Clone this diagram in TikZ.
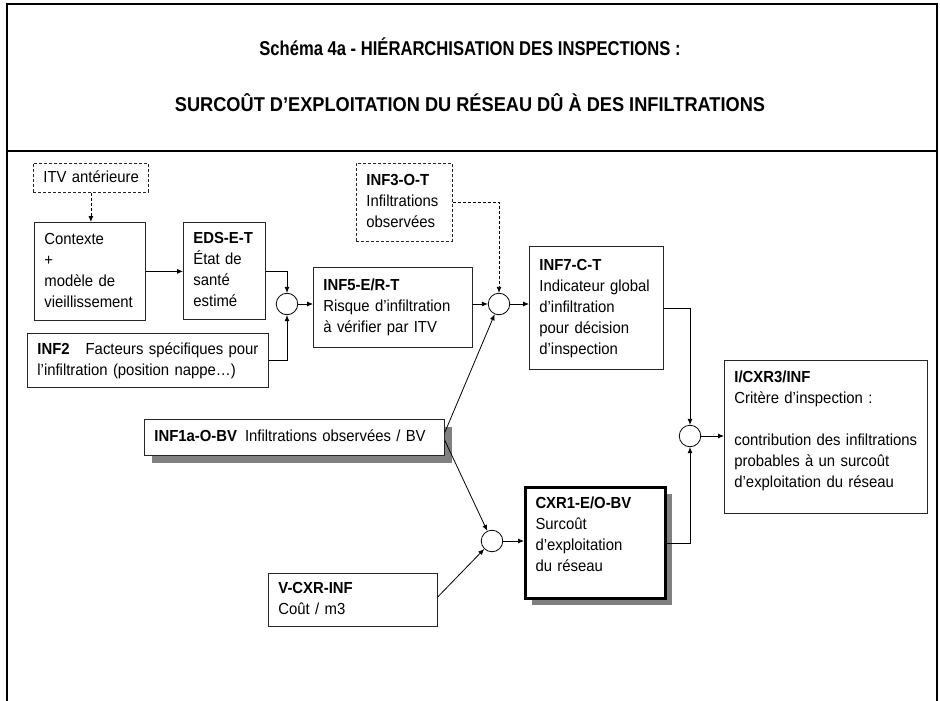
\documentclass[tikz,border=0pt]{standalone}
\usepackage{fontspec}
\setmainfont{Liberation Sans}[FakeStretch=0.93]
\newfontfamily\titlefam{Liberation Sans}[FakeStretch=0.83]
\newfontfamily\titlefamw{Liberation Sans}[FakeStretch=0.91]
\usetikzlibrary{arrows.meta,calc}
\newcommand\bodyfont{\fontsize{16}{21}\selectfont}
\newcommand\titlefont{\titlefam\bfseries\fontsize{20}{24}\selectfont}
\newcommand\titlefontw{\titlefamw\bfseries\fontsize{20}{24}\selectfont}
\newcommand\tb[1]{\begin{tabular}{@{}l@{}}#1\end{tabular}}
\definecolor{shadowgray}{RGB}{128,128,128}
\tikzset{
  bx/.style={draw=black!85, line width=0.8pt, rectangle, anchor=north west,
    inner xsep=10pt, inner ysep=0pt, align=left, font=\bodyfont},
  dbx/.style={bx, dash pattern=on 3pt off 2pt},
  jn/.style={circle, draw, line width=0.8pt, minimum size=21.5pt, inner sep=0pt},
  arr/.style={line width=0.8pt, -{Latex[length=6pt,width=5pt]}},
  darr/.style={arr, dash pattern=on 3pt off 2pt},
  ttl/.style={font=\titlefont, inner sep=0pt},
  ttlw/.style={font=\titlefontw, inner sep=0pt},
}
\begin{document}
\begin{tikzpicture}[x=1pt,y=-1pt]
\useasboundingbox (0,0) rectangle (940,701);
% frame
\draw[line width=2pt] (7,701) -- (7,4) -- (937,4) -- (937,701);
\draw[line width=1.5pt] (7,151) -- (937,151);
% titles
\node[ttl] (t1) at (470,47) {Schéma 4a - HIÉRARCHISATION DES INSPECTIONS :};
\node[ttlw] (t2) at (470,103) {SURCOÛT D’EXPLOITATION DU RÉSEAU DÛ À DES INFILTRATIONS};
% shadows
\fill[shadowgray] (152,427) rectangle (452,463);
\fill[shadowgray] (532,494) rectangle (672,605);
% boxes
\node[dbx, text width=95pt, minimum height=29pt] (itv) at (33,163) {\tb{ITV antérieure}};
\node[bx, text width=91pt, minimum height=98pt] (ctx) at (34,222) {\tb{Contexte\\+\\modèle de\\vieillissement}};
\node[bx, text width=62pt, minimum height=97pt] (eds) at (183,222) {\tb{\textbf{EDS-E-T}\\État de\\santé\\estimé}};
\node[bx, text width=221pt, minimum height=54pt] (inf2) at (27,333) {\tb{\textbf{INF2}\quad Facteurs spécifiques pour\\l’infiltration (position nappe…)}};
\node[bx, text width=139pt, minimum height=80pt] (inf5) at (313,267) {\tb{\textbf{INF5-E/R-T}\\Risque d’infiltration\\à vérifier par ITV}};
\node[dbx, text width=76pt, minimum height=78pt] (inf3) at (356,163) {\tb{\textbf{INF3-O-T}\\Infiltrations\\observées}};
\node[bx, text width=114pt, minimum height=123pt] (inf7) at (529,246) {\tb{\textbf{INF7-C-T}\\Indicateur global\\d’infiltration\\pour décision\\d’inspection}};
\node[bx, text width=183pt, minimum height=153pt] (icx) at (724,360) {\tb{\textbf{I/CXR3/INF}\\Critère d’inspection :\\ \\contribution des infiltrations\\probables à un surcoût\\d’exploitation du réseau\\[12pt]}};
\node[bx, fill=white, text width=280pt, minimum height=36pt] (inf1a) at (144,419) {\tb{\textbf{INF1a-O-BV}\enspace Infiltrations observées / BV}};
\node[bx, fill=white, draw=black, line width=3pt, text width=120pt, minimum height=111pt] (cxr) at (524,486) {\tb{\textbf{CXR1-E/O-BV}\\Surcoût\\d’exploitation\\du réseau\\[14pt]}};
\node[bx, text width=149pt, minimum height=53pt] (vc) at (268,573) {\tb{\textbf{V-CXR-INF}\\Coût / m3}};
% junctions
\node[jn] (j1) at (287,304) {};
\node[jn] (j2) at (499,304) {};
\node[jn] (j3) at (690,436) {};
\node[jn] (j4) at (492,541) {};
% connectors
\draw[darr] (itv.south) -- (itv.south |- ctx.north);
\draw[arr] (ctx.east) -- (ctx.east -| eds.west);
\draw[arr] (eds.east) -| (j1.north);
\draw[arr] (inf2.east) -| (j1.south);
\draw[arr] (j1.east) -- (j1.east -| inf5.west);
\draw[arr] (inf5.east |- j2.west) -- (j2.west);
\draw[darr] (inf3.east) -| (j2.north);
\draw[arr] ([yshift=5pt]inf1a.east) -- (j2);
\draw[arr] ([yshift=-3pt]inf1a.east) -- (j4);
\draw[arr] (j2.east) -- (j2.east -| inf7.west);
\draw[arr] (inf7.east) -| (j3.north);
\draw[arr] (cxr.east) -| (j3.south);
\draw[arr] (j3.east) -- (j3.east -| icx.west);
\draw[arr] ([yshift=3pt]vc.east) -- (j4);
\draw[arr] (j4.east) -- (j4.east -| cxr.west);
\end{tikzpicture}
\end{document}
